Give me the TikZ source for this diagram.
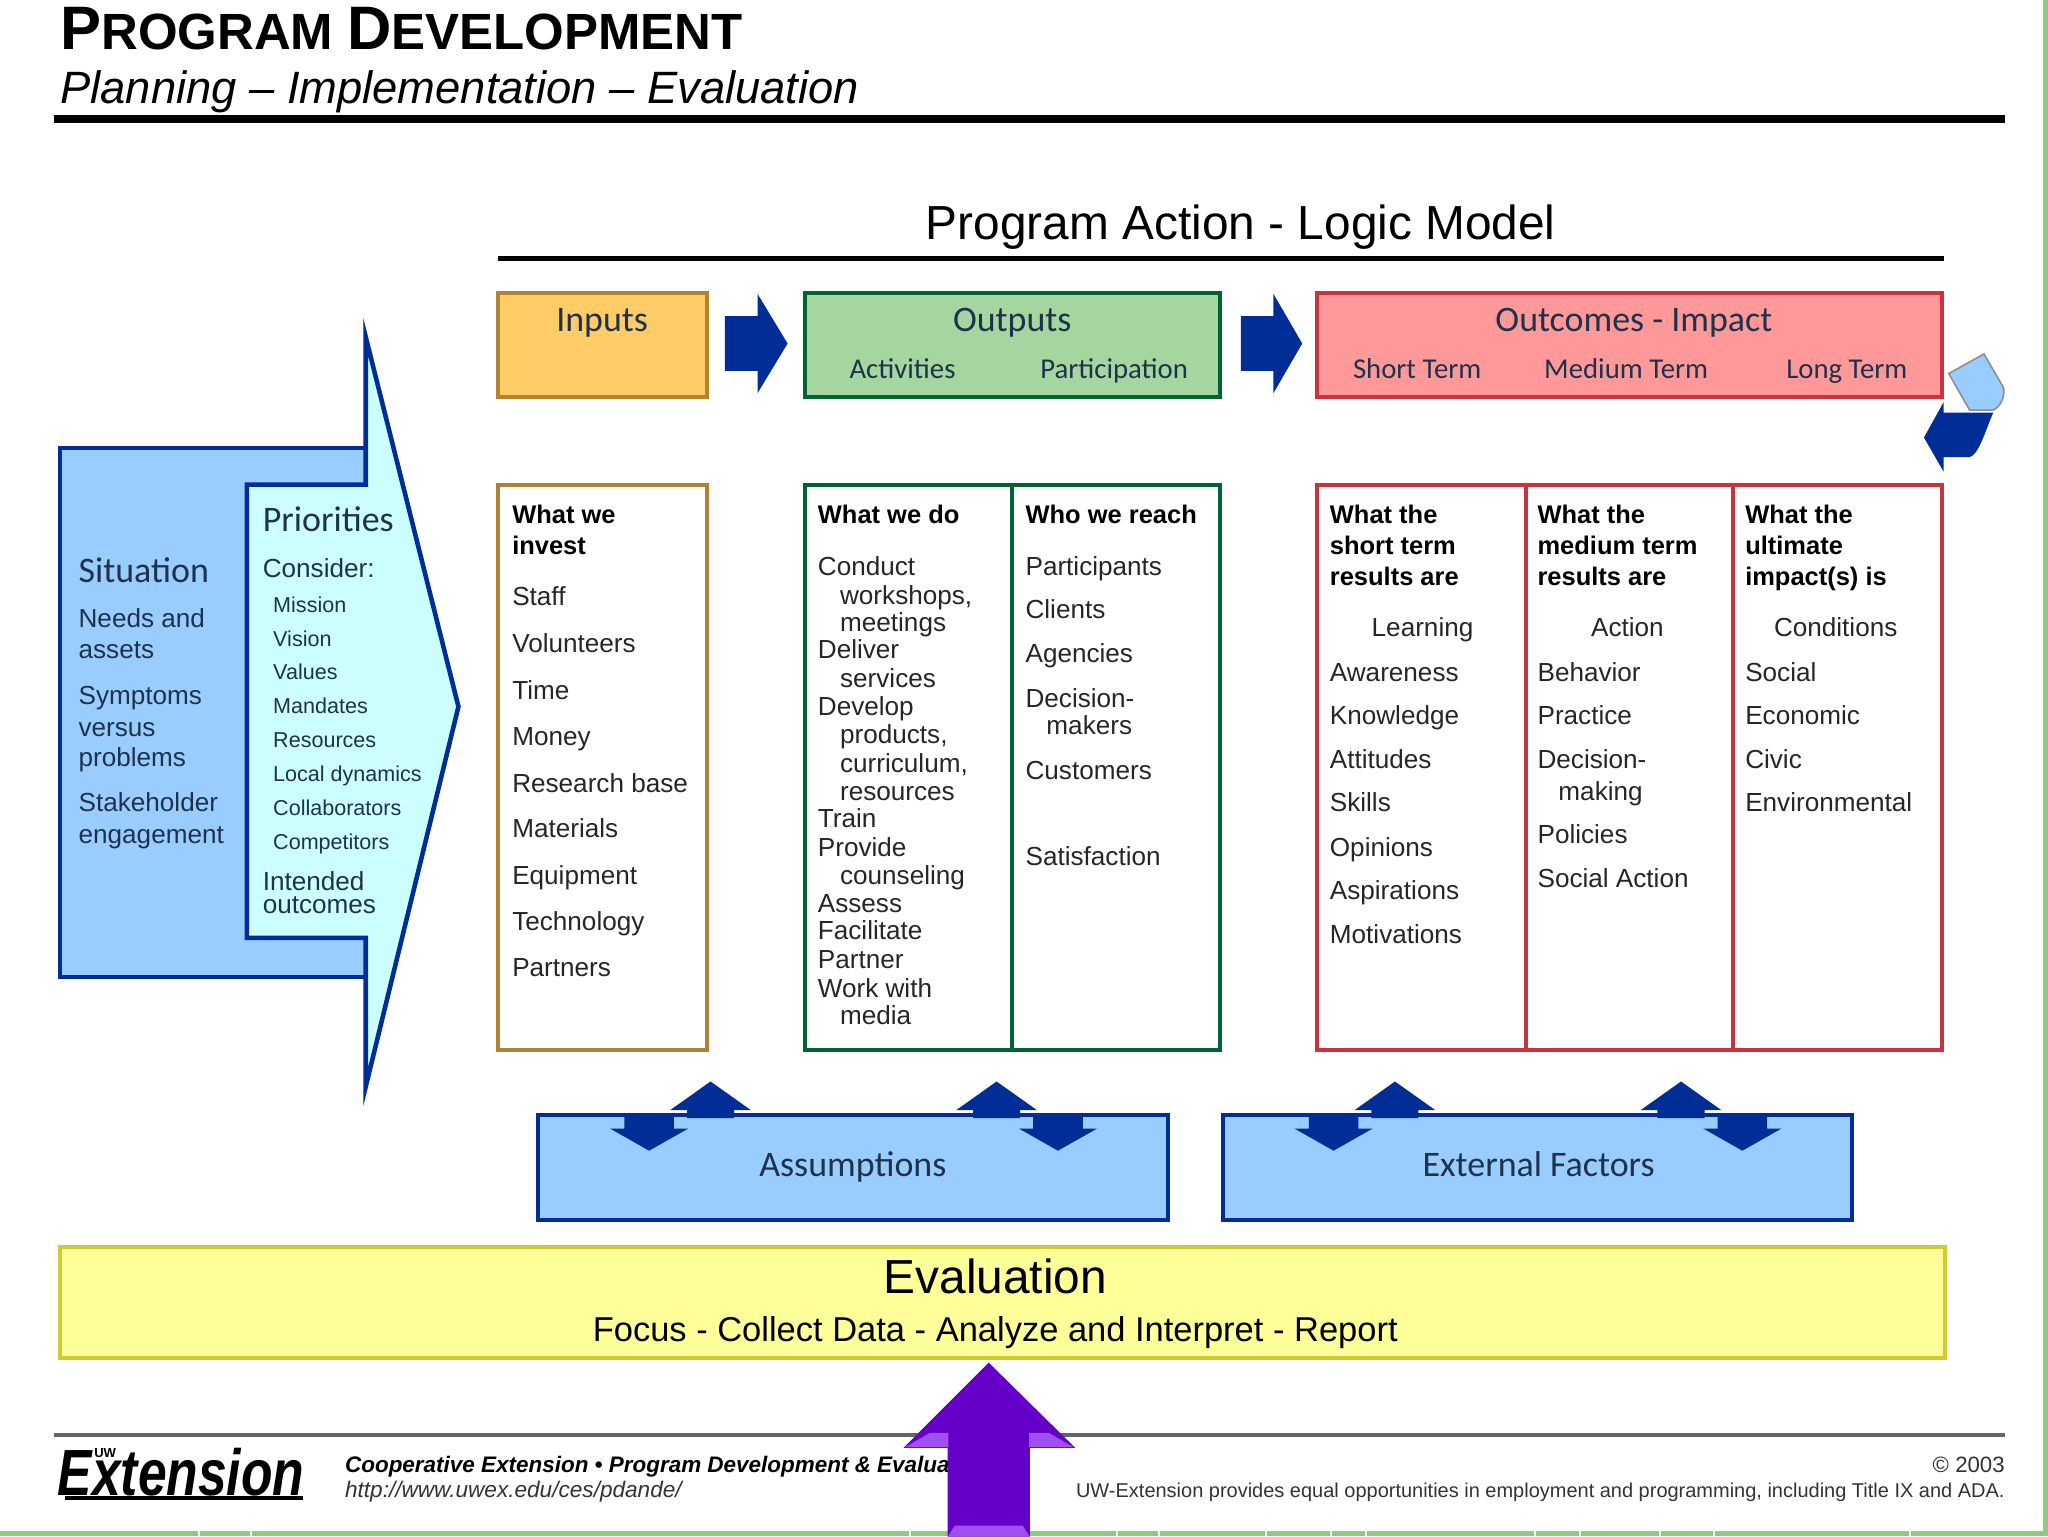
\documentclass[tikz,border=0pt]{standalone}
\usepackage{fontspec}
\setmainfont{Liberation Sans}
\newfontfamily\carlitofont{Carlito}
\usetikzlibrary{positioning}
\definecolor{lmnavy}{RGB}{0, 45, 150}
\definecolor{lmsky}{RGB}{153, 204, 255}
\definecolor{lmcyan}{RGB}{204, 255, 255}
\definecolor{lmorange}{RGB}{255, 204, 102}
\definecolor{lmbrown}{RGB}{176, 130, 50}
\definecolor{lmgreen}{RGB}{165, 214, 160}
\definecolor{lmforest}{RGB}{0, 100, 50}
\definecolor{lmpink}{RGB}{255, 153, 153}
\definecolor{lmred}{RGB}{200, 50, 65}
\definecolor{lmyellow}{RGB}{255, 255, 153}
\definecolor{lmolive}{RGB}{205, 205, 50}
\definecolor{lmpurple}{RGB}{100, 0, 200}
\definecolor{lmlilac}{RGB}{160, 80, 240}
\definecolor{lmink}{RGB}{30, 50, 75}
\definecolor{lmframe}{RGB}{140, 205, 125}
\tikzset{
  textnode/.style={inner sep=0pt, anchor=west},
  itemtext/.style={textnode, text height=17pt, text depth=4pt, font=\fontsize{20}{24}\selectfont, text=black!85},
  asktext/.style={textnode, text height=17pt, text depth=4pt, font=\fontsize{19.5}{24}\bfseries\selectfont},
  subtext/.style={textnode, text height=14.2pt, text depth=3pt, font=\fontsize{16.5}{20}\selectfont, text=lmink},
  sidetext/.style={textnode, text height=17pt, text depth=4pt, font=\fontsize{20}{24}\selectfont, text=lmink},
  headtext/.style={textnode, anchor=center, text height=21.2pt, text depth=4pt, font=\carlitofont\fontsize{27.5}{32}\selectfont, text=lmink},
  columntext/.style={textnode, anchor=center, text height=19.2pt, text depth=4pt, font=\carlitofont\fontsize{22}{26}\selectfont, text=lmink},
  bigtext/.style={inner sep=0pt, anchor=base, font=\fontsize{36.6}{40}\selectfont},
  foottext/.style={textnode, text height=14.2pt, text depth=3pt},
  upblock/.pic={\fill[lmnavy] (0,0) -- (31,22) -- (18,22) -- (18,28) -- (-18,28) -- (-18,22) -- (-31,22) -- cycle;},
  downblock/.pic={\fill[lmnavy] (0,0) -- (30,-17) -- (19,-17) -- (19,-27) -- (-19,-27) -- (-19,-17) -- (-30,-17) -- cycle;}
}
\begin{document}
\begin{tikzpicture}[x=1pt, y=-1pt]
  \useasboundingbox (0,0) rectangle (1568,1176);
  \fill[white] (0,0) rectangle (1568,1176);

  \draw[lmframe, line width=4pt] (0,1174) -- (1566,1174) -- (1566,0);
  \draw[white, line width=1.5pt] (152,1171) -- (152,1176) (192,1171) -- (192,1176) (697,1171) -- (697,1176)
    (855,1171) -- (855,1176) (887,1171) -- (887,1176) (969,1171) -- (969,1176) (1019,1171) -- (1019,1176)
    (1046,1171) -- (1046,1176) (1175,1171) -- (1175,1176) (1210,1171) -- (1210,1176) (1271,1171) -- (1271,1176)
    (1312,1171) -- (1312,1176) (1462,1171) -- (1462,1176);

  \node[inner sep=0pt, anchor=base west] (title) at (46,38) {\bfseries\fontsize{47}{50}\selectfont P\fontsize{39}{50}\selectfont ROGRAM \fontsize{47}{50}\selectfont D\fontsize{39}{50}\selectfont EVELOPMENT};
  \node[inner sep=0pt, anchor=base west] (subtitle) at (46,79) {\itshape\fontsize{34.7}{40}\selectfont Planning -- Implementation -- Evaluation};
  \draw[black, line width=6pt] (41,91) -- (1535,91);

  \node[bigtext] (logicmodel) at (950,183) {Program Action - Logic Model};
  \draw[black, line width=4pt] (381,198) -- (1488,198);

  % situation and priorities
  \filldraw[fill=lmsky, draw=lmnavy, line width=3pt] (46,343) rectangle (281,748);
  \filldraw[fill=lmcyan, draw=lmnavy, line width=3.5pt] (189,371) -- (280,371) -- (280,258) -- (351,541) -- (280,832) -- (280,718) -- (189,718) -- cycle;
  \node[headtext, anchor=west] (situation) at (60,437) {Situation};
  \node[sidetext] (needs) at (60,474) {Needs and};
  \node[sidetext] (assets) at (60,498) {assets};
  \node[sidetext] (symptoms) at (60,533) {Symptoms};
  \node[sidetext] (versus) at (60,557) {versus};
  \node[sidetext] (problems) at (60,580) {problems};
  \node[sidetext] (stakeholder) at (60,615) {Stakeholder};
  \node[sidetext] (engagement) at (60,639) {engagement};
  \node[headtext, anchor=west] (priorities) at (201,398) {Priorities};
  \node[sidetext] (consider) at (201,436) {Consider:};
  \node[subtext] (mission) at (209,463) {Mission};
  \node[subtext] (vision) at (209,489) {Vision};
  \node[subtext] (values) at (209,515) {Values};
  \node[subtext] (mandates) at (209,541) {Mandates};
  \node[subtext] (resources) at (209,567) {Resources};
  \node[subtext] (dynamics) at (209,593) {Local dynamics};
  \node[subtext] (collaborators) at (209,619) {Collaborators};
  \node[subtext] (competitors) at (209,645) {Competitors};
  \node[sidetext] (intended) at (201,675) {Intended};
  \node[sidetext] (outcomes) at (201,693) {outcomes};

  % header row
  \filldraw[fill=lmorange, draw=lmbrown, line width=3pt] (381,224) rectangle (541,304);
  \filldraw[fill=lmgreen, draw=lmforest, line width=3pt] (616,224) rectangle (934,304);
  \filldraw[fill=lmpink, draw=lmred, line width=3pt] (1008,224) rectangle (1487,304);
  \node[headtext] (inputs) at (461,245) {Inputs};
  \node[headtext] (outputs) at (775,245) {Outputs};
  \node[columntext] (activities) at (691,282) {Activities};
  \node[columntext] (participation) at (853,282) {Participation};
  \node[headtext] (impact) at (1251,245) {Outcomes - Impact};
  \node[columntext] (shortterm) at (1085,282) {Short Term};
  \node[columntext] (mediumterm) at (1245,282) {Medium Term};
  \node[columntext] (longterm) at (1414,282) {Long Term};
  \fill[lmnavy] (555,242) -- (580,242) -- (580,225) -- (603,263) -- (580,301) -- (580,284) -- (555,284) -- cycle;
  \fill[lmnavy] (950,242) -- (975,242) -- (975,225) -- (997,263) -- (975,301) -- (975,284) -- (950,284) -- cycle;

  % feedback shapes at the right
  \filldraw[fill=lmsky, draw=black!45, line width=1.2pt] (1492,286) -- (1519,271) -- (1534,297) .. controls (1535,304) and (1532,311) .. (1526,314) -- (1508,314) -- cycle;
  \fill[lmnavy] (1473,335) -- (1488,308) -- (1488,316) -- (1526,316) .. controls (1520,330) and (1515,348) .. (1508,350) -- (1488,350) -- (1488,361) -- cycle;

  % column boxes
  \draw[lmbrown, line width=3pt] (381,371) rectangle (541,804);
  \draw[lmforest, line width=3pt] (616,371) rectangle (934,804);
  \draw[lmforest, line width=3pt] (775,371) -- (775,804);
  \draw[lmred, line width=3pt] (1008,371) rectangle (1487,804);
  \draw[lmred, line width=3pt] (1168,371) -- (1168,804);
  \draw[lmred, line width=3pt] (1327,371) -- (1327,804);

  \node[asktext] (invest1) at (392,394) {What we};
  \node[asktext] (invest2) at (392,418) {invest};
  \node[itemtext] (staff) at (392,457) {Staff};
  \node[itemtext] (volunteers) at (392,493) {Volunteers};
  \node[itemtext] (time) at (392,529) {Time};
  \node[itemtext] (money) at (392,564) {Money};
  \node[itemtext] (research) at (392,600) {Research base};
  \node[itemtext] (materials) at (392,635) {Materials};
  \node[itemtext] (equipment) at (392,671) {Equipment};
  \node[itemtext] (technology) at (392,706) {Technology};
  \node[itemtext] (partners) at (392,741) {Partners};

  \node[asktext] (whatwedo) at (626,394) {What we do};
  \node[itemtext] (conduct) at (626,434) {Conduct};
  \node[itemtext] (workshops) at (643,456) {workshops,};
  \node[itemtext] (meetings) at (643,477) {meetings};
  \node[itemtext] (deliver) at (626,498) {Deliver};
  \node[itemtext] (services) at (643,520) {services};
  \node[itemtext] (develop) at (626,541) {Develop};
  \node[itemtext] (products) at (643,563) {products,};
  \node[itemtext] (curriculum) at (643,585) {curriculum,};
  \node[itemtext] (resourcesb) at (643,606) {resources};
  \node[itemtext] (train) at (626,627) {Train};
  \node[itemtext] (provide) at (626,649) {Provide};
  \node[itemtext] (counseling) at (643,671) {counseling};
  \node[itemtext] (assess) at (626,692) {Assess};
  \node[itemtext] (facilitate) at (626,713) {Facilitate};
  \node[itemtext] (partner) at (626,735) {Partner};
  \node[itemtext] (workwith) at (626,757) {Work with};
  \node[itemtext] (media) at (643,778) {media};

  \node[asktext] (whowereach) at (785,394) {Who we reach};
  \node[itemtext] (participants) at (785,434) {Participants};
  \node[itemtext] (clients) at (785,467) {Clients};
  \node[itemtext] (agencies) at (785,501) {Agencies};
  \node[itemtext] (decision) at (785,535) {Decision-};
  \node[itemtext] (makers) at (801,556) {makers};
  \node[itemtext] (customers) at (785,590) {Customers};
  \node[itemtext] (satisfaction) at (785,656) {Satisfaction};

  \node[asktext] (short1) at (1018,394) {What the};
  \node[asktext] (short2) at (1018,418) {short term};
  \node[asktext] (short3) at (1018,442) {results are};
  \node[itemtext] (learning) at (1050,481) {Learning};
  \node[itemtext] (awareness) at (1018,515) {Awareness};
  \node[itemtext] (knowledge) at (1018,548) {Knowledge};
  \node[itemtext] (attitudes) at (1018,582) {Attitudes};
  \node[itemtext] (skills) at (1018,615) {Skills};
  \node[itemtext] (opinions) at (1018,649) {Opinions};
  \node[itemtext] (aspirations) at (1018,682) {Aspirations};
  \node[itemtext] (motivations) at (1018,716) {Motivations};

  \node[asktext] (medium1) at (1177,394) {What the};
  \node[asktext] (medium2) at (1177,418) {medium term};
  \node[asktext] (medium3) at (1177,442) {results are};
  \node[itemtext] (action) at (1218,481) {Action};
  \node[itemtext] (behavior) at (1177,515) {Behavior};
  \node[itemtext] (practice) at (1177,548) {Practice};
  \node[itemtext] (decisionb) at (1177,582) {Decision-};
  \node[itemtext] (making) at (1193,606) {making};
  \node[itemtext] (policies) at (1177,639) {Policies};
  \node[itemtext] (socialaction) at (1177,673) {Social Action};

  \node[asktext] (long1) at (1336,394) {What the};
  \node[asktext] (long2) at (1336,418) {ultimate};
  \node[asktext] (long3) at (1336,442) {impact(s) is};
  \node[itemtext] (conditions) at (1358,481) {Conditions};
  \node[itemtext] (social) at (1336,515) {Social};
  \node[itemtext] (economic) at (1336,548) {Economic};
  \node[itemtext] (civic) at (1336,582) {Civic};
  \node[itemtext] (environmental) at (1336,615) {Environmental};

  % assumptions and external factors
  \filldraw[fill=lmsky, draw=lmnavy, line width=3pt] (412,854) rectangle (894,934);
  \filldraw[fill=lmsky, draw=lmnavy, line width=3pt] (936,854) rectangle (1418,934);
  \node[headtext] (assumptions) at (653,892) {Assumptions};
  \node[headtext] (externalfactors) at (1178,892) {External Factors};
  \pic at (544,828) {upblock};
  \pic at (763,828) {upblock};
  \pic at (1068,828) {upblock};
  \pic at (1287,828) {upblock};
  \pic at (497,881) {downblock};
  \pic at (810,881) {downblock};
  \pic at (1021,881) {downblock};
  \pic at (1334,881) {downblock};

  % evaluation
  \filldraw[fill=lmyellow, draw=lmolive, line width=3pt] (46,955) rectangle (1489,1040);
  \node[bigtext] (evaluation) at (762,990) {Evaluation};
  \node[inner sep=0pt, anchor=base, font=\fontsize{26.4}{30}\selectfont] (steps) at (762,1027) {Focus - Collect Data - Analyze and Interpret - Report};

  % footer
  \draw[black!60, line width=3pt] (41,1099) -- (1535,1099);
  \node[inner sep=0pt, anchor=base west] (extension) at (44,1145) {\bfseries\itshape\fontsize{50}{50}\selectfont\scalebox{.79}[1]{Extension}};
  \node[inner sep=0pt, anchor=base west, font=\bfseries\fontsize{10}{12}\selectfont] (uw) at (72,1116) {UW};
  \draw[black, line width=3pt] (50,1147) -- (232,1147);
  \node[foottext, font=\bfseries\itshape\fontsize{17.2}{20}\selectfont] (cooperative) at (264,1122) {Cooperative Extension • Program Development \& Evalua};
  \node[foottext, font=\itshape\fontsize{17.3}{20}\selectfont, text=black!80] (website) at (264,1141) {http://www.uwex.edu/ces/pdande/};
  \node[foottext, anchor=east, font=\fontsize{17}{20}\selectfont, text=black!80] (copyright) at (1535,1122) {© 2003};
  \node[foottext, anchor=east, font=\fontsize{15.3}{20}\selectfont, text=black!80] (equal) at (1535,1141) {UW-Extension provides equal opportunities in employment and programming, including Title IX and ADA.};
  \filldraw[fill=lmpurple, draw=lmpurple, line width=1pt] (757,1044) -- (822,1108) -- (788,1108) -- (788,1176) -- (726,1176) -- (726,1108) -- (693,1108) -- cycle;
  \fill[lmlilac] (693,1108) -- (712,1097) -- (726,1097) -- (726,1108) -- cycle;
  \fill[lmlilac] (822,1108) -- (803,1097) -- (788,1097) -- (788,1108) -- cycle;
  \fill[lmlilac] (726,1176) -- (731,1168) -- (783,1168) -- (788,1176) -- cycle;
\end{tikzpicture}
\end{document}
